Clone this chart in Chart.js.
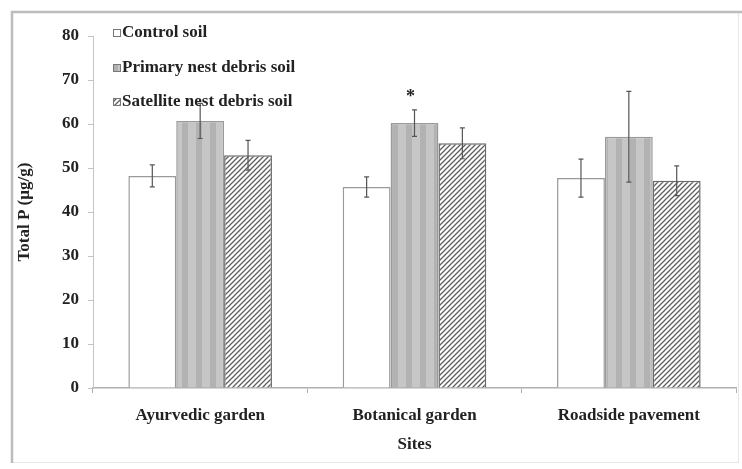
<!DOCTYPE html>
<html>
<head>
<meta charset="utf-8">
<script src="https://cdn.jsdelivr.net/npm/chart.js@4.4.1/dist/chart.umd.min.js"></script>
<style>
  html, body { margin: 0; padding: 0; background: #fff; }
  #wrap { width: 742px; height: 469px; position: relative; }
</style>
</head>
<body>
<div id="wrap"><canvas id="c" width="742" height="469"></canvas></div>
<script>
// Sites and Total P means with their error (± values), in µg/g
const sites = ['Ayurvedic garden', 'Botanical garden', 'Roadside pavement'];
const controlSoil = [48.2, 45.7, 47.7];
const controlErr = [2.5, 2.3, 4.3];
const primarySoil = [60.7, 60.2, 57.1];
const primaryErr = [4.0, 3.0, 10.3];
const satelliteSoil = [52.9, 55.6, 47.1];
const satelliteErr = [3.4, 3.5, 3.4];
const seriesNames = ['Control soil', 'Primary nest debris soil', 'Satellite nest debris soil'];
const yTicks = [0, 10, 20, 30, 40, 50, 60, 70, 80];
// significance marks: [site index, dataset index, mark]
const sigMarks = [[1, 1, '*']];

const serif = '"Liberation Serif", "DejaVu Serif", serif';

function stripePattern() {
  const p = document.createElement('canvas');
  p.width = 14; p.height = 4;
  const g = p.getContext('2d');
  g.fillStyle = '#c6c6c6'; g.fillRect(0, 0, 14, 4);
  g.fillStyle = '#b2b2b2'; g.fillRect(0, 0, 6, 4);
  return g.createPattern(p, 'repeat');
}
function hatchPattern() {
  const s = 5;
  const p = document.createElement('canvas');
  p.width = s; p.height = s;
  const g = p.getContext('2d');
  g.fillStyle = '#ffffff'; g.fillRect(0, 0, s, s);
  g.strokeStyle = '#5e5e5e'; g.lineWidth = 1.3;
  g.beginPath();
  g.moveTo(0, s); g.lineTo(s, 0);
  g.moveTo(-s / 2, s / 2); g.lineTo(s / 2, -s / 2);
  g.moveTo(s / 2, s * 1.5); g.lineTo(s * 1.5, s / 2);
  g.stroke();
  return g.createPattern(p, 'repeat');
}
const fills = ['#ffffff', stripePattern(), hatchPattern()];
const borders = ['#9a9a9a', '#9a9a9a', '#6a6a6a'];
const errors = [controlErr, primaryErr, satelliteErr];

// outer frame of the figure
const framePlugin = {
  id: 'frame',
  beforeDraw(chart) {
    const ctx = chart.ctx;
    ctx.save();
    ctx.fillStyle = '#fff';
    ctx.fillRect(0, 0, chart.width, chart.height);
    ctx.strokeStyle = '#e6e6e6'; ctx.lineWidth = 1;
    ctx.strokeRect(12.5, 12.5, 726, 450);
    ctx.strokeStyle = '#bdbdbd'; ctx.lineWidth = 2.5;
    ctx.beginPath();
    ctx.moveTo(12, 463); ctx.lineTo(12, 12); ctx.lineTo(742, 12);
    ctx.stroke();
    ctx.restore();
  }
};

// error bars and significance marks
const errorPlugin = {
  id: 'errbars',
  afterDatasetsDraw(chart) {
    const ctx = chart.ctx;
    const y = chart.scales.y;
    ctx.save();
    ctx.strokeStyle = '#555'; ctx.lineWidth = 1.2;
    chart.data.datasets.forEach((ds, di) => {
      const meta = chart.getDatasetMeta(di);
      meta.data.forEach((bar, i) => {
        const v = ds.data[i], e = errors[di][i];
        const yt = y.getPixelForValue(v + e), yb = y.getPixelForValue(v - e);
        const x = bar.x;
        ctx.beginPath();
        ctx.moveTo(x, yt); ctx.lineTo(x, yb);
        ctx.moveTo(x - 2.5, yt); ctx.lineTo(x + 2.5, yt);
        ctx.moveTo(x - 2.5, yb); ctx.lineTo(x + 2.5, yb);
        ctx.stroke();
      });
    });
    ctx.fillStyle = '#222';
    ctx.font = 'bold 18px ' + serif;
    ctx.textAlign = 'center'; ctx.textBaseline = 'middle';
    sigMarks.forEach(([si, di, mark]) => {
      const bar = chart.getDatasetMeta(di).data[si];
      const v = chart.data.datasets[di].data[si] + errors[di][si];
      ctx.fillText(mark, bar.x - 4, y.getPixelForValue(v) - 13);
    });
    ctx.restore();
  }
};

// legend inside the plot, top-left
const legendPlugin = {
  id: 'innerLegend',
  afterDraw(chart) {
    const ctx = chart.ctx;
    ctx.save();
    ctx.font = 'bold 17px ' + serif;
    ctx.textBaseline = 'middle';
    const x0 = 113, ys = [33, 68, 102];
    chart.data.datasets.forEach((ds, i) => {
      const yy = ys[i];
      ctx.fillStyle = ds.backgroundColor;
      ctx.fillRect(x0, yy - 4, 7, 7);
      ctx.strokeStyle = '#777'; ctx.lineWidth = 1;
      ctx.strokeRect(x0 + 0.5, yy - 3.5, 7, 7);
      ctx.fillStyle = '#222';
      ctx.fillText(ds.label, x0 + 9, yy);
    });
    ctx.restore();
  }
};

const datasetValues = [controlSoil, primarySoil, satelliteSoil];
new Chart(document.getElementById('c'), {
  type: 'bar',
  data: {
    labels: sites,
    datasets: datasetValues.map((vals, i) => ({
      label: seriesNames[i],
      data: vals,
      backgroundColor: fills[i],
      borderColor: borders[i],
      borderWidth: 1.5,
      categoryPercentage: 0.67,
      barPercentage: 1.0
    }))
  },
  options: {
    responsive: false,
    animation: false,
    devicePixelRatio: 1,
    layout: { padding: { left: 0, right: 6, top: 36, bottom: 0 } },
    plugins: { legend: { display: false }, tooltip: { enabled: false } },
    scales: {
      x: {
        afterFit(s) { s.height = 81; },
        grid: { display: true, drawOnChartArea: false, drawTicks: true, tickLength: 5, color: '#b0b0b0', offset: true },
        border: { display: true, color: '#b0b0b0', width: 1.5 },
        ticks: { color: '#222', font: { family: serif, size: 17, weight: 'bold' }, padding: 12, maxRotation: 0 },
        title: { display: true, text: 'Sites', color: '#222', font: { family: serif, size: 17, weight: 'bold' }, padding: { top: 0, bottom: 14 } }
      },
      y: {
        min: 0, max: 80,
        afterFit(s) { s.width = 93; },
        afterBuildTicks(s) { s.ticks = yTicks.map(v => ({ value: v })); },
        grid: { display: true, drawOnChartArea: false, drawTicks: true, tickLength: 5, color: '#c4c4c4' },
        border: { display: true, color: '#c4c4c4', width: 1 },
        ticks: { color: '#222', font: { family: serif, size: 17, weight: 'bold' }, padding: 9 },
        title: { display: true, text: 'Total P (µg/g)', color: '#222', font: { family: serif, size: 17, weight: 'bold' }, padding: { top: 14, bottom: 0 } }
      }
    }
  },
  plugins: [framePlugin, errorPlugin, legendPlugin]
});
</script>
</body>
</html>
